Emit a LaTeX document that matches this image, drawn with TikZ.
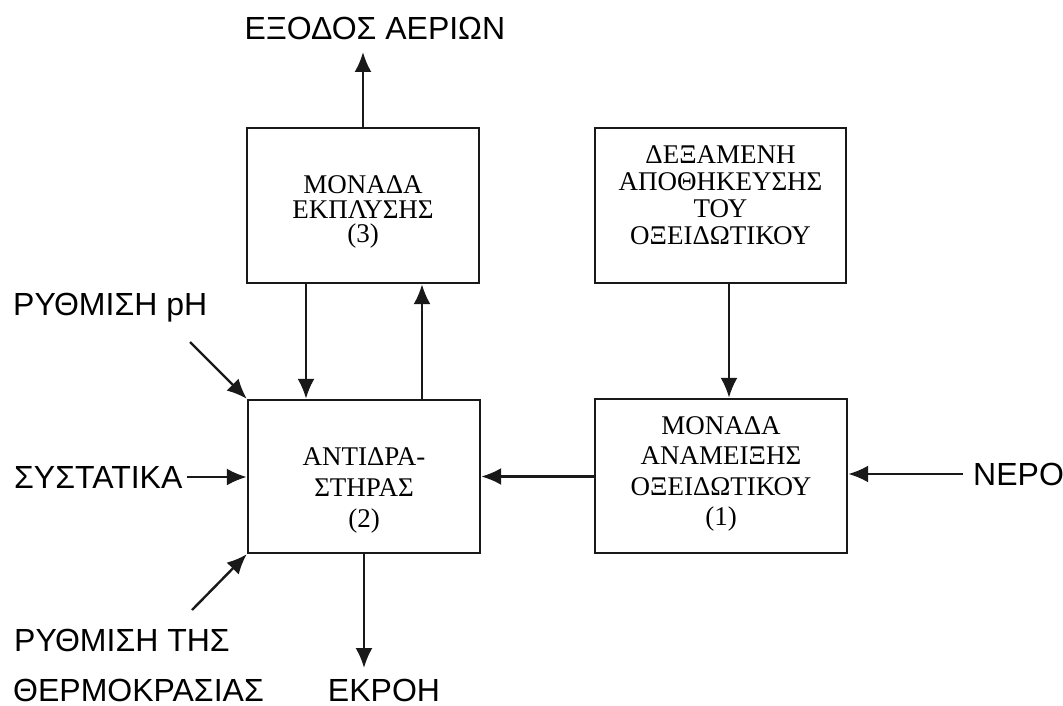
\documentclass[tikz,border=0pt]{standalone}
\usepackage{fontspec}
\setmainfont{Liberation Serif}
\newfontfamily\labfont{Liberation Sans}
\usetikzlibrary{arrows.meta}
\tikzset{
  blk/.style={draw=black!90, line width=2.4pt, inner sep=0pt},
  blktext/.style={align=center, inner sep=0pt, font=\fontsize{27}{28}\selectfont, text=black},
  lab/.style={inner sep=0pt, font=\labfont\fontsize{32}{36}\selectfont, text=black},
  arr/.style={draw=black!90, line width=2.4pt, -{Latex[length=20pt,width=17pt]}}
}
\begin{document}
\begin{tikzpicture}[x=1pt,y=-1pt]
\useasboundingbox[fill=white] (0,0) rectangle (1063,706);
% boxes
\node[blk, minimum width=232pt, minimum height=155pt] (b3) at (363,205.5) {};
\node[blk, minimum width=251pt, minimum height=155pt] (bt) at (720.5,205.5) {};
\node[blk, minimum width=232pt, minimum height=153pt] (b2) at (364,476.5) {};
\node[blk, minimum width=252pt, minimum height=154pt] (b1) at (721,476) {};
% box texts
\node[blktext, font=\fontsize{27}{24.5}\selectfont] (t3) at (363,212) {ΜΟΝΑΔΑ\\ΕΚΠΛΥΣΗΣ\\(3)};
\node[blktext, font=\fontsize{27}{27}\selectfont] (tt) at (720.5,195) {ΔΕΞΑΜΕΝΗ\\ΑΠΟΘΗΚΕΥΣΗΣ\\ΤΟΥ\\ΟΞΕΙΔΩΤΙΚΟΥ};
\node[blktext, font=\fontsize{27}{31}\selectfont] (t2) at (364,490) {ΑΝΤΙΔΡΑ-\\ΣΤΗΡΑΣ\\(2)};
\node[blktext, font=\fontsize{27}{30.5}\selectfont] (t1) at (721,474) {ΜΟΝΑΔΑ\\ΑΝΑΜΕΙΞΗΣ\\ΟΞΕΙΔΩΤΙΚΟΥ\\(1)};
% outside labels
\node[lab] (exo) at (375,28) {ΕΞΟΔΟΣ ΑΕΡΙΩΝ};
\node[lab, anchor=west] (ph) at (13,308) {ΡΥΘΜΙΣΗ pH};
\node[lab, anchor=west] (sys) at (14,477) {ΣΥΣΤΑΤΙΚΑ};
\node[lab, anchor=west] (temp1) at (14,640) {ΡΥΘΜΙΣΗ ΤΗΣ};
\node[lab, anchor=west] (temp2) at (13,690) {ΘΕΡΜΟΚΡΑΣΙΑΣ};
\node[lab] (ekr) at (384,690) {ΕΚΡΟΗ};
\node[lab, anchor=west] (nero) at (973,474) {ΝΕΡΟ};
% helper coordinates
\coordinate (exoend) at (363,52);
\coordinate (dx) at (306,0);
\coordinate (ux) at (422,0);
\coordinate (tx) at (729,0);
\coordinate (phs) at (190,342);
\coordinate (tms) at (192,610);
\coordinate (ekrend) at (364,668);
\coordinate (neros) at (963,474);
% connectors
\draw[arr] (b3.north) -- (exoend);
\draw[arr] (b3.south -| dx) -- (b2.north -| dx);
\draw[arr] (b2.north -| ux) -- (b3.south -| ux);
\draw[arr] (bt.south -| tx) -- (b1.north -| tx);
\draw[arr] (neros) -- (b1.east |- neros);
\draw[arr] (b1.west |- b2.east) -- (b2.east);
\draw[arr] ([xshift=4pt]sys.east) -- (b2.west |- sys.east);
\draw[arr] (phs) -- (b2.north west);
\draw[arr] (tms) -- (b2.south west);
\draw[arr] (b2.south) -- (ekrend);
\end{tikzpicture}
\end{document}
